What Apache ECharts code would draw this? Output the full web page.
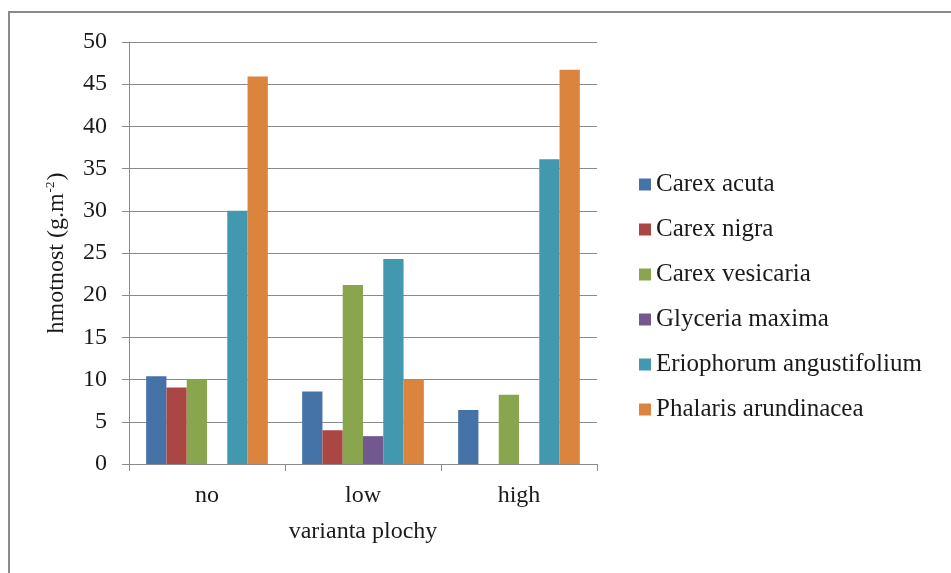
<!DOCTYPE html>
<html>
<head>
<meta charset="utf-8">
<script src="https://cdn.jsdelivr.net/npm/echarts@6/dist/echarts.min.js"></script>
<style>html,body{margin:0;padding:0;background:#fff}#c{width:951px;height:573px}</style>
</head>
<body>
<div id="c"></div>
<script>
var categories = ['no', 'low', 'high'];
var seriesNames = ['Carex acuta', 'Carex nigra', 'Carex vesicaria', 'Glyceria maxima', 'Eriophorum angustifolium', 'Phalaris arundinacea'];
var carexAcuta = [10.4, 8.6, 6.4];
var carexNigra = [9.05, 4.0, 0];
var carexVesicaria = [10.0, 21.2, 8.2];
var glyceriaMaxima = [0, 3.3, 0];
var eriophorum = [30.0, 24.3, 36.1];
var phalaris = [45.9, 10.0, 46.7];
var yTicks = [0, 50, 5];
var colors = ['#4572A7', '#AA4643', '#89A54E', '#71588F', '#4198AF', '#DB843D'];

var values = [carexAcuta, carexNigra, carexVesicaria, glyceriaMaxima, eriophorum, phalaris];
var font = 'Liberation Serif, Times New Roman, serif';
var chart = echarts.init(document.getElementById('c'));
chart.setOption({
  animation: false,
  color: colors,
  textStyle: { fontFamily: font },
  graphic: [{
    type: 'rect', shape: { x: 9, y: 12, width: 1000, height: 700 },
    style: { fill: 'none', stroke: '#8a8a8a', lineWidth: 2 }, z: -1
  }],
  grid: { left: 129, right: 354, top: 42, bottom: 109 },
  legend: {
    orient: 'vertical', left: 639, top: 172, itemGap: 20, padding: 0,
    itemWidth: 12, itemHeight: 12, icon: 'rect',
    textStyle: { fontFamily: font, fontSize: 25, color: '#1a1a1a' },
    data: seriesNames
  },
  xAxis: {
    type: 'category', data: categories,
    name: 'varianta plochy', nameLocation: 'middle', nameGap: 56,
    nameTextStyle: { fontFamily: font, fontSize: 24, color: '#1a1a1a' },
    axisLine: { lineStyle: { color: '#8a8a8a', width: 1 } },
    axisTick: { show: true, length: 7, alignWithLabel: false, lineStyle: { color: '#8a8a8a' } },
    axisLabel: { margin: 20, fontFamily: font, fontSize: 24, color: '#1a1a1a' }
  },
  yAxis: {
    type: 'value', min: yTicks[0], max: yTicks[1], interval: yTicks[2],
    name: '{a|hmotnost (g.m}{s|-2}{a|)}', nameLocation: 'middle', nameGap: 59,
    nameTextStyle: {
      rich: {
        a: { fontFamily: font, fontSize: 24, color: '#1a1a1a', lineHeight: 26 },
        s: { fontFamily: font, fontSize: 13, color: '#1a1a1a', verticalAlign: 'top', lineHeight: 26, padding: [0, 1, 10, 1] }
      }
    },
    axisLine: { show: true, lineStyle: { color: '#8a8a8a', width: 1 } },
    axisTick: { show: true, length: 7, lineStyle: { color: '#8a8a8a' } },
    axisLabel: { margin: 22, fontFamily: font, fontSize: 24, color: '#1a1a1a' },
    splitLine: { lineStyle: { color: '#8a8a8a', width: 1 } }
  },
  series: seriesNames.map(function (n, i) {
    return {
      name: n, type: 'bar', data: values[i],
      barGap: '0%', barCategoryGap: '22%',
      itemStyle: { color: colors[i] }
    };
  })
});
</script>
</body>
</html>
